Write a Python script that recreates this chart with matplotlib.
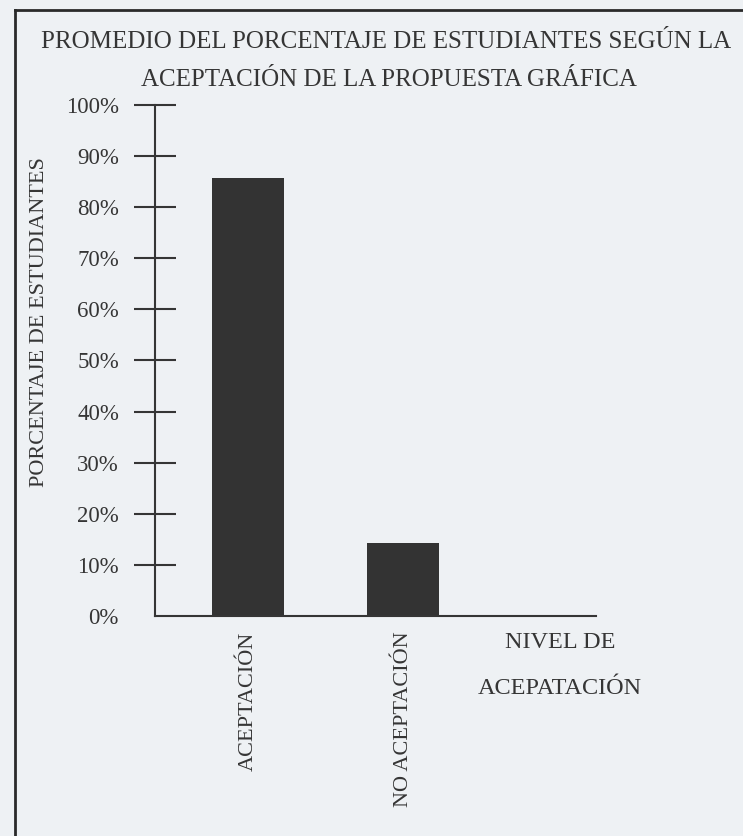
import matplotlib.pyplot as plt
from matplotlib.lines import Line2D

categorias = ['ACEPTACIÓN', 'NO ACEPTACIÓN']
porcentajes = [85.7, 14.3]
ticks_y = [0, 10, 20, 30, 40, 50, 60, 70, 80, 90, 100]
etiquetas_y = [str(t) + '%' for t in ticks_y]

fondo = '#eef1f4'
tinta = '#353535'
plt.rcParams['font.family'] = ['Liberation Serif', 'DejaVu Serif']

fig = plt.figure(figsize=(7.43, 8.36), dpi=100, facecolor=fondo)
ax = fig.add_axes([155 / 743, 1 - 616 / 836, (596 - 155) / 743, (616 - 105) / 836])
ax.set_facecolor(fondo)

ax.bar(range(len(categorias)), porcentajes, width=0.46, color='#333333')
ax.set_xlim(-0.6, 2.245)
ax.set_ylim(0, 100)

ax.set_yticks(ticks_y)
ax.set_yticklabels(etiquetas_y, fontsize=16.5, color=tinta)
ax.set_xticks(range(len(categorias)))
ax.set_xticklabels(categorias, rotation=90, fontsize=16, color=tinta, va='top')
ax.tick_params(axis='y', direction='inout', length=30, width=1.5, color=tinta, pad=11)
ax.tick_params(axis='x', length=0, pad=11)
ax.yaxis.get_major_ticks()[0].tick1line.set_visible(False)

for lado in ['top', 'right']:
    ax.spines[lado].set_visible(False)
for lado in ['left', 'bottom']:
    ax.spines[lado].set_color(tinta)
    ax.spines[lado].set_linewidth(1.5)

fig.text(40 / 743, 1 - 322 / 836, 'PORCENTAJE DE ESTUDIANTES', rotation=90,
         ha='center', va='center', fontsize=16, color=tinta)

fig.text(386 / 743, 1 - 42 / 836, 'PROMEDIO DEL PORCENTAJE DE ESTUDIANTES SEGÚN LA',
         ha='center', va='center', fontsize=18, color=tinta)
fig.text(389 / 743, 1 - 80 / 836, 'ACEPTACIÓN DE LA PROPUESTA GRÁFICA',
         ha='center', va='center', fontsize=18, color=tinta)

fig.text(560 / 743, 1 - 642 / 836, 'NIVEL DE', ha='center', va='center',
         fontsize=17.5, color=tinta)
fig.text(560 / 743, 1 - 689 / 836, 'ACEPATACIÓN', ha='center', va='center',
         fontsize=17.5, color=tinta)

# marco del recuadro escaneado
fig.add_artist(Line2D([15 / 743, 15 / 743], [0, 1 - 10 / 836],
                      transform=fig.transFigure, color='#2a2a2a', lw=2))
fig.add_artist(Line2D([15 / 743, 1], [1 - 10 / 836, 1 - 10 / 836],
                      transform=fig.transFigure, color='#2a2a2a', lw=2))

fig.savefig('out.png', dpi=100, facecolor=fondo)
